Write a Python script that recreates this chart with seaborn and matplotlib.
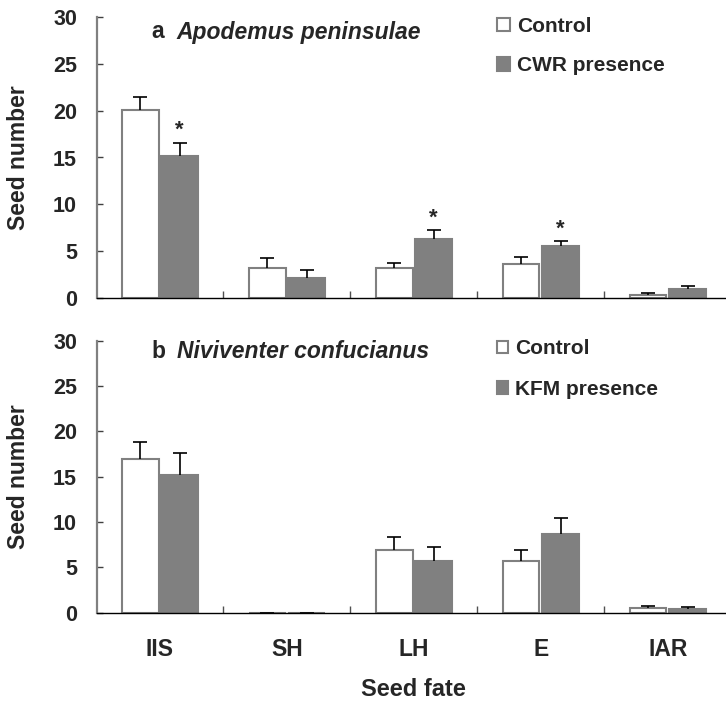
import numpy as np
import pandas as pd
import matplotlib
matplotlib.use("Agg")
import matplotlib.pyplot as plt
import seaborn as sns

# seed fates on the x axis
fates = ['IIS', 'SH', 'LH', 'E', 'IAR']

# panel a: Apodemus peninsulae
a_control = [20.1, 3.2, 3.2, 3.6, 0.3]
a_control_se = [1.4, 1.1, 0.55, 0.75, 0.17]
a_cwr = [15.2, 2.1, 6.3, 5.5, 0.9]
a_cwr_se = [1.4, 0.9, 0.9, 0.55, 0.36]
a_sig = [True, False, True, True, False]

# panel b: Niviventer confucianus
b_control = [17.0, 0.0, 6.9, 5.7, 0.55]
b_control_se = [1.8, 0.0, 1.4, 1.2, 0.2]
b_kfm = [15.2, 0.0, 5.75, 8.7, 0.4]
b_kfm_se = [2.4, 0.0, 1.55, 1.7, 0.2]
b_sig = [False, False, False, False, False]

sns.set_style('ticks')
plt.rcParams['font.family'] = ['Liberation Sans', 'DejaVu Sans']
plt.rcParams['font.weight'] = 'bold'

GRAY = '#808080'

fig = plt.figure(figsize=(7.26, 7.01), dpi=100)
ax_a = fig.add_axes([96.5 / 726, 1 - 297.7 / 701, 1 - 96.5 / 726, 280.4 / 701])
ax_b = fig.add_axes([96.5 / 726, 1 - 612.7 / 701, 1 - 96.5 / 726, 272.0 / 701])


def panel(ax, ctrl, ctrl_se, trt, trt_se, sig, trt_name, letter, species, ty,
          leg_top, hsize, lspace):
    df = pd.DataFrame({
        'fate': fates * 2,
        'group': ['Control'] * len(fates) + [trt_name] * len(fates),
        'n': ctrl + trt,
    })
    sns.barplot(data=df, x='fate', y='n', hue='group', order=fates,
                hue_order=['Control', trt_name],
                palette={'Control': 'white', trt_name: GRAY}, saturation=1,
                edgecolor=GRAY, linewidth=1.5, width=0.62, gap=0.075,
                errorbar=None, ax=ax)
    for cont, se, stars in zip(ax.containers, [ctrl_se, trt_se],
                               [[False] * len(fates), sig]):
        xs = [b.get_x() + b.get_width() / 2 for b in cont]
        ys = [b.get_height() for b in cont]
        eb = ax.errorbar(xs, ys, yerr=[np.zeros(len(se)), se], fmt='none',
                         ecolor='black', elinewidth=1.2, capsize=4.8, capthick=1.2,
                         zorder=3)
        # upward-only error bars: hide the lower caps
        eb[1][0].set_visible(False)
        for x, y, e, s in zip(xs, ys, se, stars):
            if s:
                ax.text(x, y + e + 0.7, '*', ha='center', va='baseline',
                        fontsize=16, fontweight='bold')

    handles, labels = ax.get_legend_handles_labels()
    ax.get_legend().remove()
    ax.legend(handles, labels, loc='upper left',
              bbox_to_anchor=(497 / 726, leg_top), bbox_transform=fig.transFigure,
              frameon=False, fontsize=15, handlelength=hsize, handleheight=hsize,
              handletextpad=0.35, labelspacing=lspace, borderpad=0, borderaxespad=0)

    fig.text(151 / 726, 1 - ty / 701, letter, fontsize=16.5, fontweight='bold',
             va='center')
    fig.text(176.7 / 726, 1 - ty / 701, species, fontsize=16.5, fontweight='bold',
             fontstyle='italic', va='center')

    ax.set_ylim(0, 30)
    ax.set_xlim(-0.5, 4.457)
    ax.set_yticks([0, 5, 10, 15, 20, 25, 30])
    ax.tick_params(axis='y', direction='in', length=4, width=1, color='#404040',
                   pad=14, labelsize=15.5)
    ax.tick_params(axis='x', which='major', length=0, pad=18, labelsize=16.5)
    ax.set_xticks([0.5, 1.5, 2.5, 3.5], minor=True)
    ax.tick_params(axis='x', which='minor', direction='in', length=5, width=1,
                   color='#505050')
    for lab in ax.get_yticklabels() + ax.get_xticklabels():
        lab.set_fontweight('bold')
    sns.despine(ax=ax)
    ax.spines['left'].set_color(GRAY)
    ax.spines['left'].set_linewidth(1.6)
    ax.spines['bottom'].set_color('black')
    ax.spines['bottom'].set_linewidth(1.0)
    ax.set_ylabel('Seed number', fontsize=16.5, fontweight='bold')
    ax.yaxis.set_label_coords(-0.106, 0.5)


panel(ax_a, a_control, a_control_se, a_cwr, a_cwr_se, a_sig, 'CWR presence',
      'a', 'Apodemus peninsulae', 32, 1 - 17 / 701, 0.62, 0.98)
panel(ax_b, b_control, b_control_se, b_kfm, b_kfm_se, b_sig, 'KFM presence',
      'b', 'Niviventer confucianus', 351.7, 1 - 339 / 701, 0.52, 1.05)

ax_a.set_xlabel('')
ax_a.set_xticklabels([])
ax_b.set_xlabel('Seed fate', fontsize=17, fontweight='bold')
ax_b.xaxis.set_label_coords(0.503, -0.241)

fig.savefig('out.png', dpi=100)
